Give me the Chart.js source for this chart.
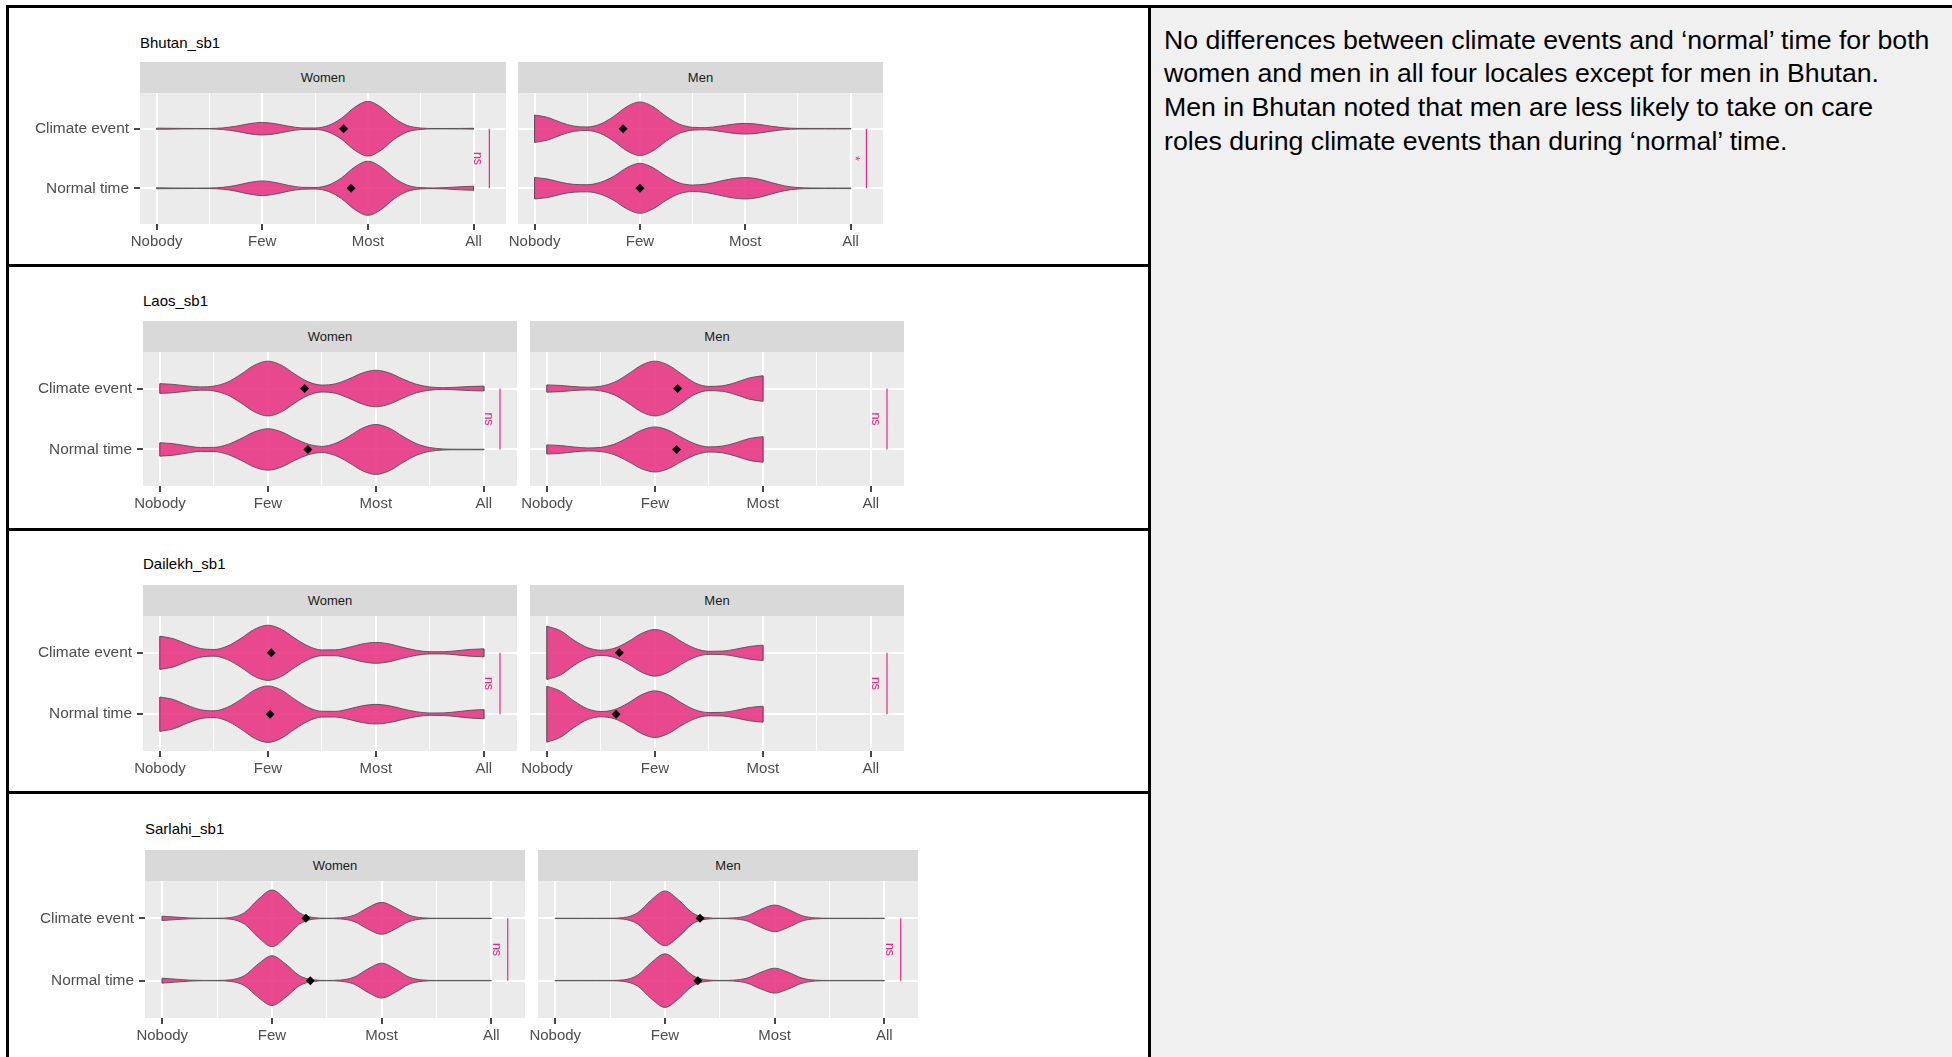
<!DOCTYPE html>
<html>
<head>
<meta charset="utf-8">
<script src="https://cdn.jsdelivr.net/npm/chart.js@4.4.1/dist/chart.umd.min.js"></script>
<style>
  html, body { margin: 0; padding: 0; background: #ffffff; }
  body { width: 1952px; height: 1057px; position: relative; overflow: hidden;
         font-family: "Liberation Sans", Arial, sans-serif; }
  .block { position: absolute; }
  .rule { position: absolute; background: #000000; }
  .title { position: absolute; font-size: 15px; line-height: 18px; color: #000000; white-space: nowrap; }
  .strip { position: absolute; background: #D9D9D9; color: #1A1A1A; font-size: 13px;
           display: flex; align-items: center; justify-content: center; }
  .note { position: absolute; left: 1164px; top: 23.5px; font-size: 26.7px; line-height: 33.9px;
          color: #000000; white-space: nowrap; }
  canvas { position: absolute; }
</style>
</head>
<body>
<!-- right-hand merged cell and table rules -->
<div class="block" style="left:1151px;top:8px;width:801px;height:1049px;background:#F0F0F0"></div>
<div class="rule" style="left:6px;top:5px;width:1946px;height:3px"></div>
<div class="rule" style="left:6px;top:5px;width:3px;height:1052px"></div>
<div class="rule" style="left:1148px;top:5px;width:3px;height:1052px"></div>
<div class="rule" style="left:6px;top:264px;width:1145px;height:3px"></div>
<div class="rule" style="left:6px;top:528px;width:1145px;height:3px"></div>
<div class="rule" style="left:6px;top:791px;width:1145px;height:3px"></div>
<div class="note">No differences between climate events and ‘normal’ time for both<br>women and men in all four locales except for men in Bhutan.<br>Men in Bhutan noted that men are less likely to take on care<br>roles during climate events than during ‘normal’ time.</div>

<script>
// ---------- data ----------
const locales = ['Bhutan_sb1', 'Laos_sb1', 'Dailekh_sb1', 'Sarlahi_sb1'];
const genders = ['Women', 'Men'];
const periods = ['Climate event', 'Normal time'];
const xTickLabels = ['Nobody', 'Few', 'Most', 'All'];
const xGridValues = [1, 1.5, 2, 2.5, 3, 3.5, 4];

// violin half-widths (in category units), sampled from Nobody (1) every 0.125
const densityStart = 1;
const densityStep = 0.125;

const bhutanWomenClimate = [.010,.008,.005,.004,.004,.014,.042,.084,.106,.084,.042,.014,.013,.054,.176,.360,.460,.360,.176,.053,.012,.004,.004,.005,.007];
const bhutanWomenNormal  = [.008,.006,.005,.004,.005,.016,.048,.097,.123,.097,.048,.016,.013,.053,.174,.357,.455,.357,.174,.052,.011,.006,.012,.026,.034];
const bhutanMenClimate   = [.230,.190,.105,.043,.030,.079,.206,.370,.450,.370,.206,.077,.024,.018,.041,.074,.090,.074,.041,.015,.006,.005,.005,.005,.005];
const bhutanMenNormal    = [.180,.155,.100,.065,.060,.100,.200,.345,.420,.345,.200,.090,.055,.070,.115,.160,.180,.155,.095,.040,.012,.006,.005,.005,.005];

const laosWomenClimate = [.080,.068,.043,.027,.040,.105,.236,.383,.450,.383,.236,.110,.057,.078,.158,.255,.300,.255,.157,.070,.026,.014,.022,.034,.040];
const laosWomenNormal  = [.110,.094,.059,.032,.034,.080,.178,.289,.340,.289,.178,.087,.050,.100,.215,.349,.410,.349,.215,.096,.031,.009,.005,.005,.005];
const laosMenClimate   = [.060,.051,.032,.022,.039,.105,.236,.383,.450,.383,.236,.090,.035,.045,.100,.175,.210];
const laosMenNormal    = [.075,.064,.040,.025,.035,.088,.195,.315,.370,.315,.195,.090,.042,.055,.110,.180,.210];

const dailekhWomenClimate = [.270,.230,.142,.071,.054,.110,.236,.383,.450,.383,.236,.108,.047,.048,.089,.145,.170,.145,.089,.041,.018,.018,.034,.055,.065];
const dailekhWomenNormal  = [.280,.238,.147,.073,.055,.113,.241,.392,.460,.392,.241,.110,.047,.046,.085,.137,.160,.137,.085,.040,.019,.021,.040,.063,.075];
const dailekhMenClimate   = [.435,.360,.205,.085,.042,.075,.180,.315,.380,.315,.180,.070,.025,.028,.060,.103,.125];
const dailekhMenNormal    = [.456,.375,.215,.088,.043,.075,.180,.315,.380,.315,.180,.070,.026,.029,.062,.108,.130];

const sarlahiWomenClimate = [.035,.020,.007,.003,.003,.014,.092,.305,.455,.305,.092,.014,.003,.009,.052,.172,.257,.172,.052,.009,.003,.003,.003,.003,.003];
const sarlahiWomenNormal  = [.040,.023,.008,.003,.003,.013,.081,.268,.400,.268,.081,.013,.003,.010,.057,.188,.280,.188,.057,.010,.003,.003,.003,.003,.003];
const sarlahiMenClimate   = [.003,.003,.003,.003,.003,.013,.089,.295,.440,.295,.089,.013,.003,.008,.043,.144,.214,.144,.043,.008,.003,.003,.003,.003,.003];
const sarlahiMenNormal    = [.003,.003,.003,.003,.003,.013,.087,.289,.430,.289,.087,.013,.003,.007,.041,.134,.200,.134,.041,.007,.003,.003,.003,.003,.003];

// mean response per panel: [climate event, normal time]
const meansWomen = [[2.77, 2.84], [2.34, 2.37], [2.03, 2.02], [2.31, 2.35]];
const meansMen   = [[1.84, 2.00], [2.21, 2.20], [1.67, 1.64], [2.32, 2.30]];

// significance of climate event vs normal time
const sigWomen = ['ns', 'ns', 'ns', 'ns'];
const sigMen   = ['*', 'ns', 'ns', 'ns'];
const bracketX = 4.15;

const violinWidths = [
  [[bhutanWomenClimate, bhutanWomenNormal], [bhutanMenClimate, bhutanMenNormal]],
  [[laosWomenClimate, laosWomenNormal], [laosMenClimate, laosMenNormal]],
  [[dailekhWomenClimate, dailekhWomenNormal], [dailekhMenClimate, dailekhMenNormal]],
  [[sarlahiWomenClimate, sarlahiWomenNormal], [sarlahiMenClimate, sarlahiMenNormal]]
];
const means = [meansWomen, meansMen];
const sigLabels = [sigWomen, sigMen];

// ---------- layout & style ----------
const rowBoxes = [
  { titleTop: 34,    stripTop: 62,  panelTop: 93,  panelH: 131, panels: [[140, 506], [518, 883]] },
  { titleTop: 291.5, stripTop: 321, panelTop: 352, panelH: 134, panels: [[143, 517], [530, 904]] },
  { titleTop: 554.5, stripTop: 585, panelTop: 616, panelH: 135, panels: [[143, 517], [530, 904]] },
  { titleTop: 819.5, stripTop: 850, panelTop: 881, panelH: 137, panels: [[145, 525], [538, 918]] }
];
const xMin = 0.8425, xMax = 4.3075;
const yMin = 0.4, yMax = 2.6;
const PINK = '#E7298A';
const VIOLIN_FILL = 'rgba(231,49,129,0.88)';
const VIOLIN_EDGE = '#505050';
const AXIS_TEXT = '#4D4D4D';
const FONT = '"Liberation Sans", Arial, sans-serif';
const X_AXIS_H = 34;

Chart.defaults.font.family = FONT;

const panelBackground = {
  id: 'panelBackground',
  beforeDraw(chart) {
    const { ctx, chartArea: a } = chart;
    ctx.save();
    ctx.fillStyle = '#EBEBEB';
    ctx.fillRect(a.left, a.top, a.right - a.left, a.bottom - a.top);
    ctx.restore();
  }
};

const sigText = {
  id: 'sigText',
  afterDatasetsDraw(chart, args, opts) {
    const { ctx, scales: { x, y } } = chart;
    const px = x.getPixelForValue(opts.at) - 15;
    const py = (y.getPixelForValue(1) + y.getPixelForValue(2)) / 2;
    ctx.save();
    ctx.translate(px, py);
    ctx.rotate(Math.PI / 2);
    ctx.fillStyle = PINK;
    ctx.font = '12.5px ' + FONT;
    ctx.textAlign = 'center';
    ctx.textBaseline = 'alphabetic';
    ctx.fillText(opts.label, 0, 0);
    ctx.restore();
  }
};

function violinDatasets(widths, cat) {
  const xs = widths.map((_, i) => densityStart + i * densityStep);
  const edge = {
    borderColor: VIOLIN_EDGE, borderWidth: 0.9, pointRadius: 0,
    cubicInterpolationMode: 'monotone', order: 3
  };
  const cap = { borderColor: VIOLIN_EDGE, borderWidth: 0.9, pointRadius: 0, tension: 0, fill: false, order: 3 };
  const last = widths.length - 1;
  return [
    { ...edge, data: widths.map((h, i) => ({ x: xs[i], y: cat - h })), fill: false },
    { ...edge, data: widths.map((h, i) => ({ x: xs[i], y: cat + h })), fill: '-1', backgroundColor: VIOLIN_FILL },
    { ...cap, data: [{ x: xs[0], y: cat - widths[0] }, { x: xs[0], y: cat + widths[0] }] },
    { ...cap, data: [{ x: xs[last], y: cat - widths[last] }, { x: xs[last], y: cat + widths[last] }] }
  ];
}

function addDiv(cls, left, top, width, height, text) {
  const d = document.createElement('div');
  d.className = cls;
  d.style.left = left + 'px';
  d.style.top = top + 'px';
  if (width != null) d.style.width = width + 'px';
  if (height != null) d.style.height = height + 'px';
  d.textContent = text;
  document.body.appendChild(d);
  return d;
}

function makePanel(r, g) {
  const box = rowBoxes[r];
  const [pl, pr] = box.panels[g];
  const showY = g === 0;
  const axisW = showY ? pl - 10 : 40;
  const canvas = document.createElement('canvas');
  const cw = pr - pl + axisW, ch = box.panelH + X_AXIS_H;
  canvas.width = cw; canvas.height = ch;
  canvas.style.left = (pl - axisW) + 'px';
  canvas.style.top = box.panelTop + 'px';
  canvas.style.width = cw + 'px';
  canvas.style.height = ch + 'px';
  document.body.appendChild(canvas);

  const datasets = [];
  datasets.push({
    data: periods.map((_, k) => ({ x: means[g][r][k], y: k + 1 })),
    showLine: false, pointStyle: 'rectRot', pointRadius: 4.5,
    pointBackgroundColor: '#000000', pointBorderColor: '#000000', pointBorderWidth: 0, order: 0
  });
  datasets.push({
    data: [{ x: bracketX, y: 1 }, { x: bracketX, y: 2 }],
    borderColor: PINK, borderWidth: 1.2, pointRadius: 0, tension: 0, fill: false, order: 1
  });
  periods.forEach((_, k) => {
    datasets.push(...violinDatasets(violinWidths[r][g][k], k + 1));
  });

  new Chart(canvas, {
    type: 'line',
    data: { datasets },
    plugins: [panelBackground, sigText],
    options: {
      responsive: false,
      animation: false,
      devicePixelRatio: 1,
      layout: { padding: 0, autoPadding: false },
      plugins: {
        legend: { display: false },
        tooltip: { enabled: false },
        sigText: { label: sigLabels[g][r], at: bracketX }
      },
      scales: {
        x: {
          type: 'linear', min: xMin, max: xMax,
          afterBuildTicks: s => { s.ticks = xGridValues.map(v => ({ value: v })); },
          afterFit: s => { s.height = X_AXIS_H; s.paddingLeft = 0; s.paddingRight = 0; },
          ticks: {
            autoSkip: false, maxRotation: 0, minRotation: 0, padding: 3,
            color: AXIS_TEXT, font: { size: 15 },
            callback: v => Number.isInteger(v) ? xTickLabels[v - 1] : ''
          },
          grid: {
            color: '#FFFFFF',
            lineWidth: c => (c.tick && Number.isInteger(c.tick.value)) ? 2 : 1,
            tickColor: c => (c.tick && Number.isInteger(c.tick.value)) ? '#333333' : 'rgba(0,0,0,0)',
            tickLength: 6, tickWidth: 1.8
          },
          border: { display: false }
        },
        y: {
          type: 'linear', min: yMin, max: yMax, reverse: true,
          afterBuildTicks: s => { s.ticks = periods.map((_, k) => ({ value: k + 1 })); },
          afterFit: s => { s.width = axisW; s.paddingTop = 0; s.paddingBottom = 0; },
          ticks: {
            display: showY, padding: 5, color: AXIS_TEXT, font: { size: 15.4 },
            callback: v => periods[v - 1]
          },
          grid: {
            color: '#FFFFFF', lineWidth: 2, drawTicks: showY,
            tickLength: 6, tickColor: '#333333', tickWidth: 1.8
          },
          border: { display: false }
        }
      }
    }
  });

  addDiv('strip', pl, box.stripTop, pr - pl, box.panelTop - box.stripTop, genders[g]);
}

locales.forEach((name, r) => {
  const box = rowBoxes[r];
  addDiv('title', box.panels[0][0], box.titleTop, null, null, name);
  genders.forEach((_, g) => makePanel(r, g));
});
</script>
</body>
</html>
